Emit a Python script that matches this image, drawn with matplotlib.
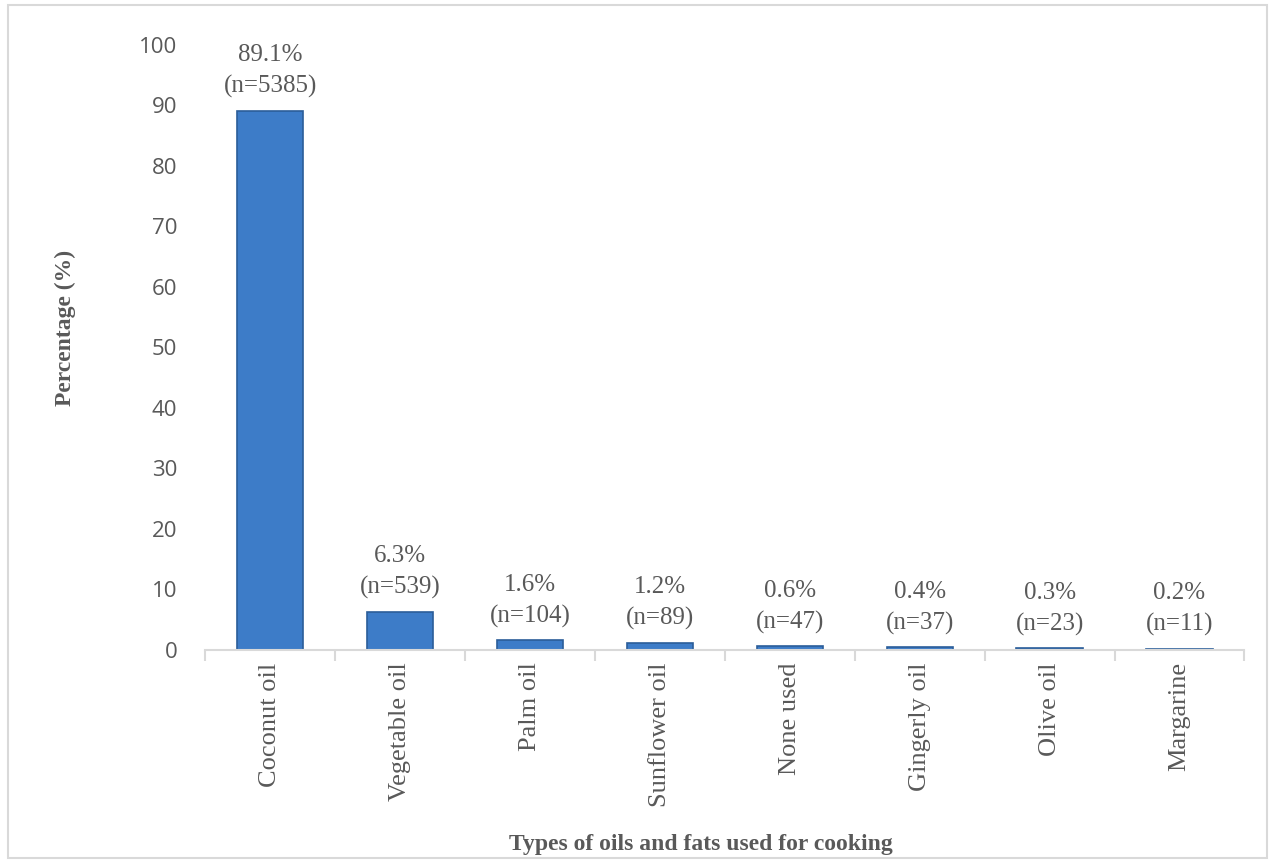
import numpy as np
import matplotlib.pyplot as plt
from matplotlib.patches import Rectangle

# oils and fats used for cooking
oils = ['Coconut oil', 'Vegetable oil', 'Palm oil', 'Sunflower oil',
        'None used', 'Gingerly oil', 'Olive oil', 'Margarine']
percent = [89.1, 6.3, 1.6, 1.2, 0.6, 0.4, 0.3, 0.2]
counts = [5385, 539, 104, 89, 47, 37, 23, 11]
yticks = [0, 10, 20, 30, 40, 50, 60, 70, 80, 90, 100]

grey = '#595959'
line_grey = '#d9d9d9'

fig = plt.figure(figsize=(12.75, 8.63), dpi=100)
ax = fig.add_axes([0.161, 0.247, 0.815, 0.701])

x = np.arange(len(oils))
bars = ax.bar(x, percent, width=0.51, color='#3d7cc8', edgecolor='#2b5d99', linewidth=1.2)

# labels on top of bars
for b, p, n in zip(bars, percent, counts):
    ax.annotate('%.1f%%\n(n=%d)' % (p, n), (b.get_x() + b.get_width() / 2, b.get_height()),
                xytext=(0, 9), textcoords='offset points', ha='center', va='bottom',
                fontsize=18, color=grey, family='Liberation Serif', linespacing=1.5,
                annotation_clip=False)

ax.set_xlim(-0.5, len(oils) - 0.5)
ax.set_ylim(0, 100)
ax.set_yticks(yticks)
ax.set_yticklabels([str(v) for v in yticks], fontsize=16, color=grey, family='Open Sans')
ax.tick_params(axis='y', length=0, pad=20)

ax.set_xticks(x)
ax.set_xticklabels(oils, rotation=90, fontsize=19, color=grey, family='Liberation Serif')
ax.set_xticks(np.arange(-0.5, len(oils)), minor=True)
ax.tick_params(axis='x', which='major', length=0, pad=9)
ax.tick_params(axis='x', which='minor', length=8, color=line_grey, width=1.5)

for s in ['top', 'right', 'left']:
    ax.spines[s].set_visible(False)
ax.spines['bottom'].set_color(line_grey)
ax.spines['bottom'].set_linewidth(1.5)

fig.text(0.051, 0.62, 'Percentage (%)', rotation=90, ha='center', va='center',
         fontsize=17, fontweight='bold', color=grey, family='Liberation Serif')
fig.text(0.55, 0.021, 'Types of oils and fats used for cooking', ha='center', va='center',
         fontsize=17, fontweight='bold', color=grey, family='Liberation Serif')

# outer border
fig.patches.append(Rectangle((0.006, 0.006), 0.988, 0.988, transform=fig.transFigure,
                             fill=False, edgecolor=line_grey, linewidth=1.5))

fig.savefig('out.png')
